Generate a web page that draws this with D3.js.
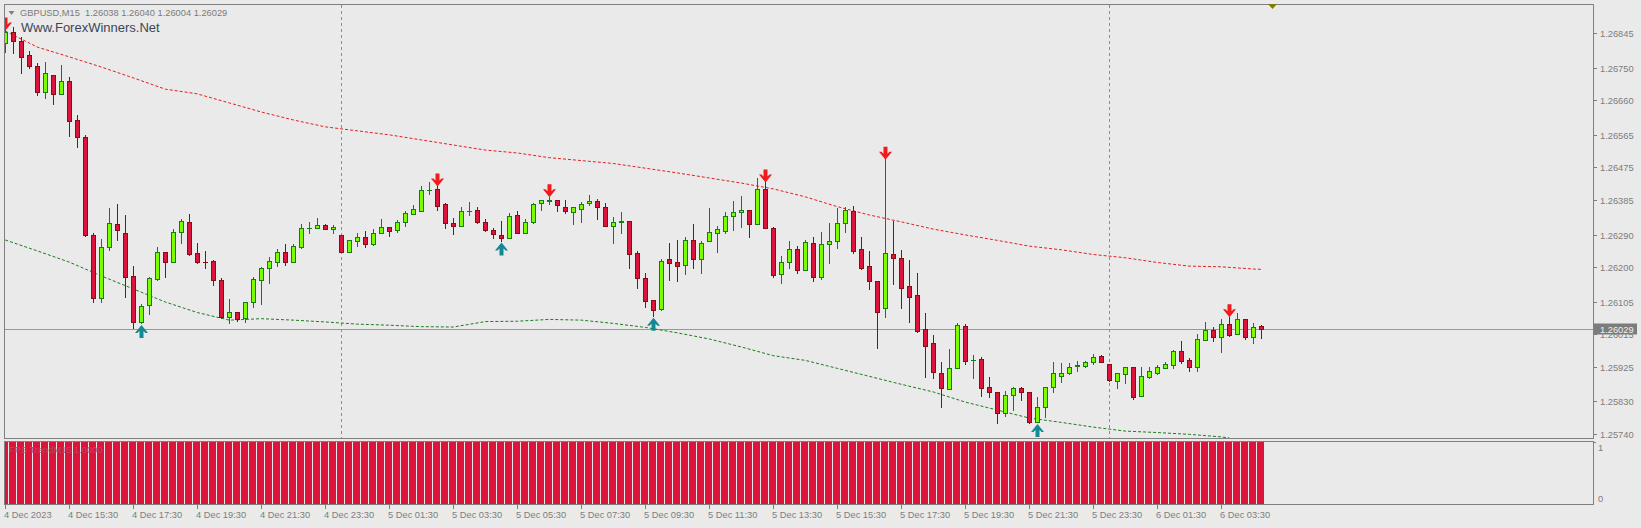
<!DOCTYPE html>
<html><head><meta charset="utf-8">
<script src="https://cdn.jsdelivr.net/npm/d3@7"></script>
<style>html,body{margin:0;padding:0;background:#eaeaea;}svg{display:block;}</style>
</head><body>
<svg id="c" width="1641" height="528"></svg>
<script>
// ---- DATA (GBPUSD M15) ----
const symbol = "GBPUSD,M15";
const opens = [1.26819,1.26849,1.26824,1.26785,1.26755,1.26684,1.26729,1.26678,1.26713,1.26605,1.26559,1.26288,1.26116,1.26255,1.26318,1.26293,1.26176,1.26050,1.26095,1.26167,1.26241,1.26215,1.26296,1.26324,1.26238,1.26215,1.26216,1.26165,1.26063,1.26076,1.26059,1.26103,1.26165,1.26197,1.26215,1.26241,1.26215,1.26256,1.26307,1.26309,1.26315,1.26304,1.26288,1.26243,1.26273,1.26282,1.26265,1.26293,1.26310,1.26303,1.26324,1.26346,1.26356,1.26412,1.26415,1.26374,1.26321,1.26313,1.26355,1.26357,1.26324,1.26303,1.26288,1.26281,1.26343,1.26295,1.26324,1.26376,1.26383,1.26385,1.26365,1.26353,1.26361,1.26376,1.26382,1.26365,1.26314,1.26325,1.26327,1.26238,1.26170,1.26109,1.26085,1.26223,1.26213,1.26206,1.26275,1.26222,1.26273,1.26293,1.26301,1.26341,1.26351,1.26357,1.26318,1.26415,1.26307,1.26180,1.26215,1.26249,1.26192,1.26266,1.26174,1.26263,1.26271,1.26321,1.26355,1.26249,1.26202,1.26161,1.26087,1.26236,1.26225,1.26148,1.26123,1.26029,1.25990,1.25907,1.25863,1.25923,1.26038,1.25944,1.25946,1.25869,1.25855,1.25797,1.25847,1.25866,1.25855,1.25774,1.25814,1.25869,1.25901,1.25909,1.25928,1.25928,1.25939,1.25955,1.25932,1.25886,1.25905,1.25924,1.25846,1.25898,1.25909,1.25923,1.25930,1.25969,1.25944,1.25926,1.25999,1.26027,1.26007,1.26042,1.26015,1.26056,1.26008,1.26038];
const highs = [1.26854,1.26862,1.26834,1.26796,1.26763,1.26766,1.26731,1.26758,1.26724,1.26619,1.26565,1.26293,1.26277,1.26362,1.26374,1.26344,1.26203,1.26098,1.26173,1.26255,1.26242,1.26304,1.26333,1.26347,1.26266,1.26245,1.26220,1.26169,1.26112,1.26076,1.26105,1.26172,1.26201,1.26227,1.26250,1.26263,1.26264,1.26319,1.26325,1.26335,1.26319,1.26315,1.26288,1.26275,1.26293,1.26300,1.26305,1.26333,1.26310,1.26330,1.26355,1.26371,1.26424,1.26434,1.26424,1.26378,1.26335,1.26365,1.26379,1.26367,1.26332,1.26308,1.26327,1.26350,1.26356,1.26332,1.26376,1.26385,1.26394,1.26385,1.26385,1.26367,1.26381,1.26399,1.26387,1.26376,1.26339,1.26353,1.26327,1.26245,1.26183,1.26109,1.26222,1.26267,1.26275,1.26282,1.26319,1.26272,1.26362,1.26314,1.26353,1.26383,1.26396,1.26357,1.26445,1.26435,1.26310,1.26231,1.26272,1.26258,1.26275,1.26282,1.26297,1.26321,1.26362,1.26367,1.26370,1.26284,1.26245,1.26161,1.26498,1.26328,1.26247,1.26220,1.26183,1.26075,1.26013,1.25939,1.25974,1.26047,1.26043,1.25958,1.25953,1.25896,1.25855,1.25859,1.25870,1.25869,1.25855,1.25841,1.25869,1.25938,1.25935,1.25935,1.25941,1.25941,1.25960,1.25958,1.25932,1.25907,1.25926,1.25926,1.25926,1.25926,1.25930,1.25938,1.25972,1.25996,1.25949,1.26015,1.26050,1.26036,1.26056,1.26063,1.26075,1.26056,1.26045,1.26040];
const lows = [1.26794,1.26790,1.26736,1.26750,1.26675,1.26667,1.26650,1.26677,1.26562,1.26532,1.26286,1.26105,1.26105,1.26247,1.26275,1.26119,1.26032,1.26045,1.26070,1.26165,1.26174,1.26215,1.26267,1.26234,1.26211,1.26197,1.26151,1.26059,1.26045,1.26052,1.26050,1.26091,1.26098,1.26156,1.26204,1.26206,1.26215,1.26254,1.26295,1.26309,1.26304,1.26293,1.26243,1.26243,1.26259,1.26256,1.26262,1.26293,1.26287,1.26298,1.26314,1.26346,1.26356,1.26401,1.26358,1.26309,1.26291,1.26313,1.26343,1.26322,1.26300,1.26280,1.26272,1.26280,1.26293,1.26293,1.26321,1.26358,1.26374,1.26355,1.26349,1.26319,1.26325,1.26371,1.26333,1.26314,1.26267,1.26293,1.26199,1.26142,1.26091,1.26065,1.26083,1.26165,1.26163,1.26181,1.26199,1.26185,1.26273,1.26243,1.26293,1.26303,1.26312,1.26284,1.26318,1.26307,1.26174,1.26157,1.26197,1.26185,1.26192,1.26163,1.26167,1.26212,1.26254,1.26297,1.26240,1.26194,1.26141,1.25978,1.26063,1.26153,1.26087,1.26050,1.26022,1.25896,1.25894,1.25815,1.25863,1.25921,1.25932,1.25895,1.25846,1.25843,1.25770,1.25790,1.25806,1.25834,1.25771,1.25772,1.25788,1.25857,1.25884,1.25905,1.25915,1.25924,1.25932,1.25939,1.25887,1.25868,1.25881,1.25836,1.25846,1.25894,1.25905,1.25921,1.25923,1.25935,1.25915,1.25915,1.25999,1.25997,1.25967,1.26010,1.26015,1.26001,1.25990,1.26004];
const closes = [1.26849,1.26825,1.26780,1.26756,1.26684,1.26735,1.26678,1.26713,1.26604,1.26558,1.26288,1.26116,1.26255,1.26321,1.26303,1.26174,1.26050,1.26093,1.26169,1.26241,1.26215,1.26296,1.26327,1.26236,1.26215,1.26214,1.26165,1.26063,1.26076,1.26057,1.26103,1.26167,1.26197,1.26217,1.26241,1.26215,1.26258,1.26307,1.26309,1.26315,1.26304,1.26310,1.26243,1.26275,1.26282,1.26265,1.26293,1.26310,1.26301,1.26324,1.26350,1.26360,1.26412,1.26413,1.26370,1.26321,1.26313,1.26354,1.26356,1.26325,1.26303,1.26291,1.26281,1.26341,1.26295,1.26324,1.26373,1.26385,1.26384,1.26372,1.26356,1.26365,1.26374,1.26382,1.26365,1.26314,1.26324,1.26327,1.26236,1.26171,1.26108,1.26083,1.26216,1.26212,1.26204,1.26275,1.26222,1.26266,1.26296,1.26304,1.26341,1.26352,1.26357,1.26320,1.26415,1.26309,1.26178,1.26215,1.26249,1.26192,1.26269,1.26174,1.26263,1.26271,1.26321,1.26357,1.26245,1.26199,1.26161,1.26077,1.26238,1.26225,1.26142,1.26119,1.26025,1.25984,1.25912,1.25866,1.25923,1.26040,1.25942,1.25945,1.25866,1.25855,1.25797,1.25847,1.25866,1.25855,1.25774,1.25815,1.25869,1.25907,1.25907,1.25924,1.25929,1.25939,1.25952,1.25939,1.25889,1.25907,1.25924,1.25843,1.25900,1.25913,1.25925,1.25932,1.25969,1.25942,1.25924,1.26001,1.26027,1.26008,1.26042,1.26013,1.26056,1.26008,1.26036,1.26029];

// upper (red dotted) and lower (green dotted) moving lines, sampled at bar indices
const upperLineBars   = [0,4,8,12,16,20,24,28,32,36,40,44,48,52,56,60,64,68,72,76,80,84,88,92,96,100,104,108,112,116,120,124,128,132,136,140,144,148,152,156,157];
const upperLineValues = [1.26851,1.26807,1.26780,1.26752,1.26722,1.26691,1.26678,1.26653,1.26628,1.26606,1.26587,1.26576,1.26565,1.26551,1.26537,1.26523,1.26515,1.26502,1.26494,1.26486,1.26473,1.26460,1.26446,1.26432,1.26416,1.26394,1.26367,1.26344,1.26325,1.26305,1.26289,1.26274,1.26258,1.26248,1.26235,1.26226,1.26213,1.26203,1.26201,1.26195,1.26194];
const lowerLineBars   = [0,4,8,12,16,20,24,28,32,36,40,44,48,52,56,60,64,68,72,76,80,84,88,92,96,100,104,108,112,116,120,124,128,132,136,140,144,148,152,153];
const lowerLineValues = [1.26275,1.26245,1.26214,1.26176,1.26140,1.26104,1.26075,1.26054,1.26058,1.26054,1.26049,1.26043,1.26040,1.26036,1.26035,1.26050,1.26051,1.26056,1.26054,1.26045,1.26034,1.26019,1.26002,1.25980,1.25956,1.25943,1.25921,1.25899,1.25877,1.25856,1.25828,1.25806,1.25784,1.25772,1.25759,1.25748,1.25744,1.25739,1.25732,1.25729];

const sellSignalBars = [0,54,68,95,110,153];
const buySignalBars  = [17,62,81,129];

// FPS Trend indicator (1 on every bar)
const trendValues = [1,1,1,1,1,1,1,1,1,1,1,1,1,1,1,1,1,1,1,1,1,1,1,1,1,1,1,1,1,1,1,1,1,1,1,1,1,1,1,1,1,1,1,1,1,1,1,1,1,1,1,1,1,1,1,1,1,1,1,1,1,1,1,1,1,1,1,1,1,1,1,1,1,1,1,1,1,1,1,1,1,1,1,1,1,1,1,1,1,1,1,1,1,1,1,1,1,1,1,1,1,1,1,1,1,1,1,1,1,1,1,1,1,1,1,1,1,1,1,1,1,1,1,1,1,1,1,1,1,1,1,1,1,1,1,1,1,1,1,1,1,1,1,1,1,1,1,1,1,1,1,1,1,1,1,1,1,1];

const priceTicks = [1.26845,1.26750,1.26660,1.26565,1.26475,1.26385,1.26290,1.26200,1.26105,1.26015,1.25925,1.25830,1.25740];
const timeTickBars   = [0,8,16,24,32,40,48,56,64,72,80,88,96,104,112,120,128,136,144,152];
const timeTickLabels = ["4 Dec 2023","4 Dec 15:30","4 Dec 17:30","4 Dec 19:30","4 Dec 21:30","4 Dec 23:30","5 Dec 01:30","5 Dec 03:30","5 Dec 05:30","5 Dec 07:30","5 Dec 09:30","5 Dec 11:30","5 Dec 13:30","5 Dec 15:30","5 Dec 17:30","5 Dec 19:30","5 Dec 21:30","5 Dec 23:30","6 Dec 01:30","6 Dec 03:30"];
const daySeparatorBars = [42,138];
const bidPrice = 1.26029;
const fmt = d3.format(".5f");

// ---- CHART ----
const svg = d3.select("#c");
const FONT = "'Liberation Sans', Arial, sans-serif";
const AX = "#7d7d7d";
const L = 4, R = 1593, T = 4, B = 438, IT = 441, IB = 504;

const x = d3.scaleLinear().domain([0, 157]).range([5.3, 1261.3]);
const y = d3.scaleLinear().domain([1.25740, 1.26845]).range([434, 33.3]);
const yi = d3.scaleLinear().domain([0, 1]).range([IB, IT + 1]);
const cx = i => Math.floor(x(i));

svg.append("rect").attr("width",1641).attr("height",528).attr("fill","#eaeaea");

const defs = svg.append("defs");
defs.append("clipPath").attr("id","cm").append("rect").attr("x",L+1).attr("y",T+1).attr("width",R-L-1).attr("height",B-T-1);
defs.append("clipPath").attr("id","ci").append("rect").attr("x",L+1).attr("y",IT+1).attr("width",R-L-1).attr("height",IB-IT-1);

const main = svg.append("g").attr("clip-path","url(#cm)");
const ind = svg.append("g").attr("clip-path","url(#ci)");

// day separators (behind everything else)
daySeparatorBars.forEach(b => {
  [[main,T+1,B],[ind,IT+1,IB]].forEach(([g,a,z]) => {
    g.append("line").attr("x1",cx(b)+0.5).attr("x2",cx(b)+0.5).attr("y1",a).attr("y2",z)
      .attr("stroke","#8c8c8c").attr("stroke-dasharray","3,3").attr("shape-rendering","crispEdges");
  });
});

// bid line
const yb = Math.round(y(bidPrice)) + 0.5;
main.append("line").attr("x1",L).attr("x2",R).attr("y1",yb).attr("y2",yb)
  .attr("stroke","#a3a343").attr("shape-rendering","crispEdges");

// moving lines
const lineGen = d3.line().x(d => x(d[0])).y(d => y(d[1]));
main.append("path").datum(upperLineBars.map((b,k)=>[b,upperLineValues[k]]))
  .attr("d",lineGen).attr("fill","none").attr("stroke","#e3201e").attr("stroke-width",1).attr("stroke-dasharray","3,2");
main.append("path").datum(lowerLineBars.map((b,k)=>[b,lowerLineValues[k]]))
  .attr("d",lineGen).attr("fill","none").attr("stroke","#1b7d1b").attr("stroke-width",1).attr("stroke-dasharray","3,2");

// candles
const candles = main.append("g").attr("shape-rendering","crispEdges");
opens.forEach((o,i) => {
  const c = closes[i], h = highs[i], lo = lows[i];
  const bull = c >= o;
  const edge = bull ? "#107f10" : "#8b0a14";
  const fill = bull ? "#7cfc00" : "#dc143c";
  const X = cx(i);
  const yH = Math.round(y(h)), yL = Math.round(y(lo));
  const yT = Math.round(y(Math.max(o,c))), yB = Math.round(y(Math.min(o,c)));
  candles.append("rect").attr("x",X).attr("y",yH).attr("width",1).attr("height",Math.max(1,yL-yH+1)).attr("fill",edge);
  if (yB - yT < 2) {
    candles.append("rect").attr("x",X-2).attr("y",yT).attr("width",5).attr("height",Math.max(1,yB-yT+1)).attr("fill",edge);
  } else {
    candles.append("rect").attr("x",X-2).attr("y",yT).attr("width",5).attr("height",yB-yT+1).attr("fill",edge);
    candles.append("rect").attr("x",X-1).attr("y",yT+1).attr("width",3).attr("height",yB-yT-1).attr("fill",fill);
  }
});

// signal arrows
const downArrow = "M-2,-13.5 L2,-13.5 L2,-6.5 L4,-8.5 L6.5,-8.5 L0,-0.5 L-6.5,-8.5 L-4,-8.5 L-2,-6.5 Z";
const upArrow   = "M-2,13.5 L2,13.5 L2,6.5 L4,8.5 L6.5,8.5 L0,0.5 L-6.5,8.5 L-4,8.5 L-2,6.5 Z";
sellSignalBars.forEach(b => {
  main.append("path").attr("d",downArrow).attr("fill","#f21b1b")
    .attr("transform",`translate(${cx(b)+0.5},${y(highs[b])+1})`);
});
buySignalBars.forEach(b => {
  main.append("path").attr("d",upArrow).attr("fill","#168893")
    .attr("transform",`translate(${cx(b)+0.5},${y(lows[b])+1})`);
});

// indicator bars
ind.append("g").attr("shape-rendering","crispEdges").selectAll("rect").data(trendValues).join("rect")
  .attr("x",(d,i)=>cx(i)-4).attr("width",7)
  .attr("y",d=>yi(d)).attr("height",d=>yi(0)-yi(d)+1)
  .attr("fill","#dc143c");
ind.append("text").attr("x",9).attr("y",453).attr("font-family",FONT).attr("font-size","9.3px")
  .attr("fill","#b8485e").text("FPS TrendM15 1.0000");

// frames
svg.append("rect").attr("x",L+0.5).attr("y",T+0.5).attr("width",R-L).attr("height",B-T)
  .attr("fill","none").attr("stroke","#808080").attr("shape-rendering","crispEdges");
svg.append("rect").attr("x",L+0.5).attr("y",IT+0.5).attr("width",R-L).attr("height",IB-IT)
  .attr("fill","none").attr("stroke","#808080").attr("shape-rendering","crispEdges");

// price axis
const pa = svg.append("g");
priceTicks.forEach(p => {
  const yy = Math.round(y(p)) + 0.5;
  pa.append("line").attr("x1",R+1).attr("x2",R+4).attr("y1",yy).attr("y2",yy).attr("stroke",AX).attr("shape-rendering","crispEdges");
  pa.append("text").attr("x",R+7).attr("y",yy).attr("dy","0.35em").attr("font-family",FONT).attr("font-size","9.3px")
    .attr("fill",AX).text(fmt(p));
});
pa.append("rect").attr("x",R+1).attr("y",yb-6).attr("width",43).attr("height",11).attr("fill","#7c7c7c");
pa.append("text").attr("x",R+7).attr("y",yb).attr("dy","0.35em").attr("font-family",FONT).attr("font-size","9.3px")
  .attr("fill","#f2f2f2").text(fmt(bidPrice));

// indicator axis
[[1,IT+7],[0,IB-5]].forEach(([v,yy]) => {
  svg.append("text").attr("x",R+5).attr("y",yy).attr("dy","0.35em").attr("font-family",FONT).attr("font-size","9.3px")
    .attr("fill",AX).text(v);
});
svg.append("line").attr("x1",R+1).attr("x2",R+3).attr("y1",IT+1.5).attr("y2",IT+1.5).attr("stroke",AX);

// time axis
timeTickBars.forEach((b,k) => {
  const X = cx(b) + 0.5;
  svg.append("line").attr("x1",X).attr("x2",X).attr("y1",IB+1).attr("y2",IB+5).attr("stroke",AX).attr("shape-rendering","crispEdges");
  svg.append("text").attr("x",cx(b)-1).attr("y",518).attr("font-family",FONT).attr("font-size","9.3px")
    .attr("fill",AX).text(timeTickLabels[k]);
});

// header
svg.append("path").attr("d","M8.5,11 L14.5,11 L11.5,15 Z").attr("fill","#808080");
svg.append("text").attr("x",20).attr("y",16).attr("font-family",FONT).attr("font-size","9.3px").attr("fill","#7a7a7a")
  .attr("xml:space","preserve").text(`${symbol}  ${fmt(opens[157])} ${fmt(highs[157])} ${fmt(lows[157])} ${fmt(closes[157])}`);
svg.append("text").attr("x",21).attr("y",31.5).attr("font-family",FONT).attr("font-size","13px").attr("fill","#3a4656")
  .text("Www.ForexWinners.Net");
// chart shift marker
svg.append("path").attr("d","M1268,4 L1277,4 L1272.5,9 Z").attr("fill","#7d7d00");
</script>
</body></html>
